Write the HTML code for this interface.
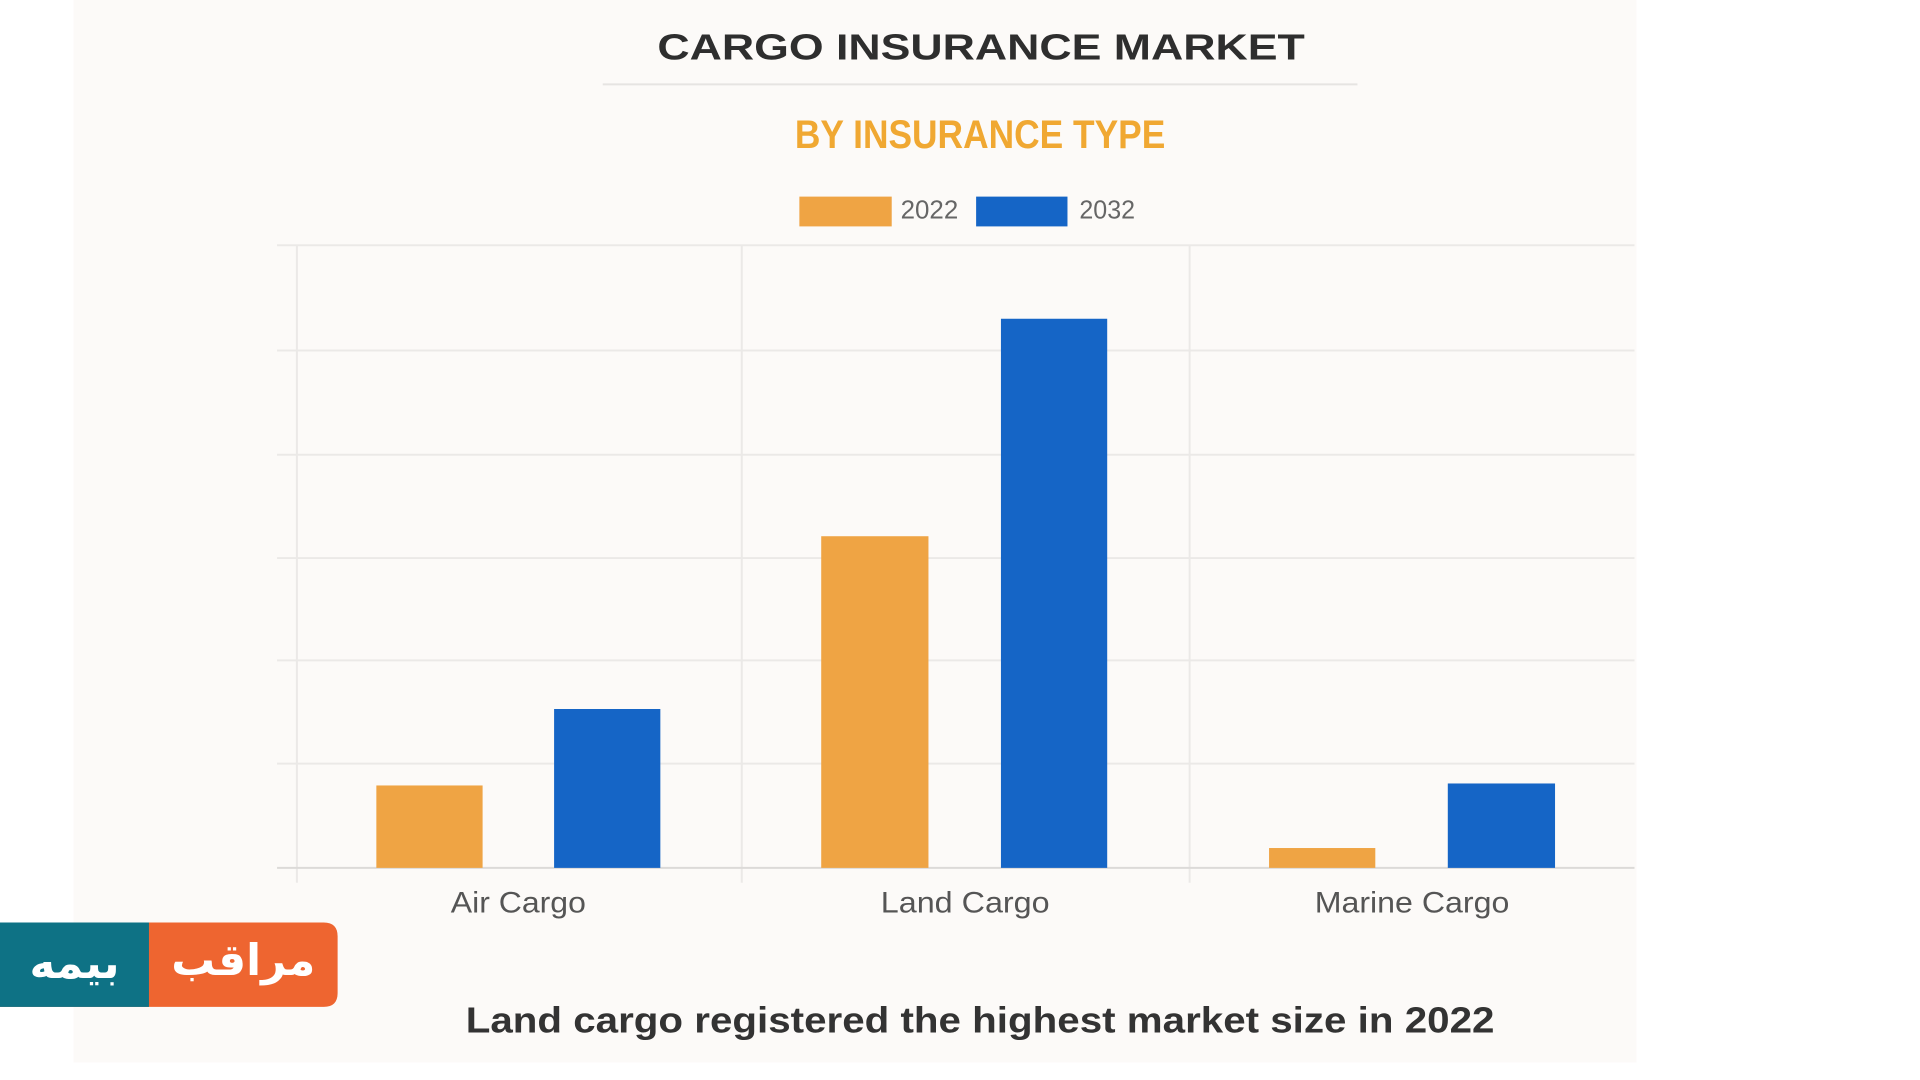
<!DOCTYPE html>
<html><head><meta charset="utf-8"><style>html,body{margin:0;padding:0;background:#fff}svg{display:block}</style></head>
<body>
<svg width="1920" height="1080" viewBox="0 0 1920 1080" xmlns="http://www.w3.org/2000/svg" font-family="Liberation Sans, sans-serif">
<rect width="1920" height="1080" fill="#ffffff"/>
<g transform="scale(0.993)">
<rect x="74" y="0" width="1574" height="1070" fill="#fcfaf8"/>
<text x="988" y="60" text-anchor="middle" font-size="36" font-weight="bold" fill="#2e2e2e" textLength="652" lengthAdjust="spacingAndGlyphs">CARGO INSURANCE MARKET</text>
<line x1="607" y1="85" x2="1367" y2="85" stroke="#e6e4e2" stroke-width="2"/>
<text x="987" y="149" text-anchor="middle" font-size="40" font-weight="bold" fill="#f0a832" textLength="373" lengthAdjust="spacingAndGlyphs">BY INSURANCE TYPE</text>
<rect x="805" y="198" width="93" height="30" fill="#efa444"/>
<text x="907" y="220" font-size="26" fill="#666" textLength="58" lengthAdjust="spacingAndGlyphs">2022</text>
<rect x="983" y="198" width="92" height="30" fill="#1565c6"/>
<text x="1087" y="220" font-size="26" fill="#666" textLength="56" lengthAdjust="spacingAndGlyphs">2032</text>
<g stroke="#ebe9e7" stroke-width="2">
<line x1="279" y1="247" x2="1646" y2="247"/>
<line x1="279" y1="353" x2="1646" y2="353"/>
<line x1="279" y1="458" x2="1646" y2="458"/>
<line x1="279" y1="562" x2="1646" y2="562"/>
<line x1="279" y1="665" x2="1646" y2="665"/>
<line x1="279" y1="769" x2="1646" y2="769"/>
<line x1="299" y1="247" x2="299" y2="889"/>
<line x1="747" y1="247" x2="747" y2="889"/>
<line x1="1198" y1="247" x2="1198" y2="889"/>
</g>
<line x1="279" y1="874" x2="1646" y2="874" stroke="#dcdad8" stroke-width="2"/>
<rect x="379" y="791" width="107" height="83" fill="#efa444"/>
<rect x="558" y="714" width="107" height="160" fill="#1565c6"/>
<rect x="827" y="540" width="108" height="334" fill="#efa444"/>
<rect x="1008" y="321" width="107" height="553" fill="#1565c6"/>
<rect x="1278" y="854" width="107" height="20" fill="#efa444"/>
<rect x="1458" y="789" width="108" height="85" fill="#1565c6"/>
<g font-size="30" fill="#555" text-anchor="middle">
<text x="522" y="919" textLength="136" lengthAdjust="spacingAndGlyphs">Air Cargo</text>
<text x="972" y="919" textLength="170" lengthAdjust="spacingAndGlyphs">Land Cargo</text>
<text x="1422" y="919" textLength="196" lengthAdjust="spacingAndGlyphs">Marine Cargo</text>
</g>
<text x="987" y="1040" text-anchor="middle" font-size="36" font-weight="bold" fill="#333" textLength="1036" lengthAdjust="spacingAndGlyphs">Land cargo registered the highest market size in 2022</text>
<path d="M0 929 H326 Q340 929 340 943 V1000 Q340 1014 326 1014 H0 Z" fill="#ee6530"/>
<rect x="0" y="929" width="150" height="85" fill="#0e7285"/>
<g font-family="DejaVu Sans, sans-serif" font-weight="bold" font-size="44" fill="#fff" text-anchor="middle">
<text x="75" y="985">بیمه</text>
<text x="245" y="982">مراقب</text>
</g>
</g>
</svg>
</body></html>
